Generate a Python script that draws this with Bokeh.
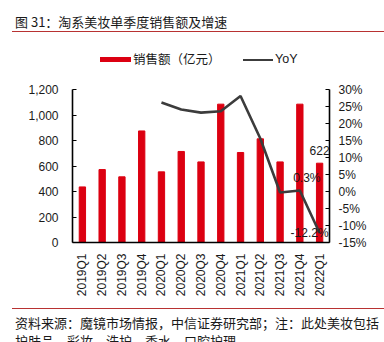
import math
from bokeh.plotting import figure
from bokeh.layouts import column
from bokeh.models import (FactorRange, Range1d, LinearAxis, FixedTicker, Div, Label,
                          NumeralTickFormatter, PrintfTickFormatter)
from bokeh.embed import file_html
from bokeh.resources import INLINE

# ---------------- data ----------------
categories = ["2019Q1", "2019Q2", "2019Q3", "2019Q4", "2020Q1", "2020Q2", "2020Q3",
              "2020Q4", "2021Q1", "2021Q2", "2021Q3", "2021Q4", "2022Q1"]
sales = [436, 572, 515, 875, 554, 714, 632, 1085, 706, 813, 632, 1085, 622]
yoy_categories = ["2020Q1", "2020Q2", "2020Q3", "2020Q4", "2021Q1", "2021Q2",
                  "2021Q3", "2021Q4", "2022Q1"]
yoy_values = [26.2, 24.1, 23.2, 23.6, 28.1, 15.6, -0.3, 0.3, -12.2]
left_ticks = [0, 200, 400, 600, 800, 1000, 1200]
right_ticks = [-15, -10, -5, 0, 5, 10, 15, 20, 25, 30]

title_text = "图 31：淘系美妆单季度销售额及增速"
legend_bar = "销售额（亿元）"
legend_line = "YoY"
source_line1 = "资料来源：魔镜市场情报，中信证券研究部；注：此处美妆包括"
source_line2 = "护肤品、彩妆、洗护、香水、口腔护理"

# ---------------- style ----------------
W = 384
TOP_H, MAIN_H, BOT_H = 72, 228, 42
RED = "#DC0011"
LINE = "#3C3C3C"
SEP = "#B83232"
TXT = "#1a1a1a"
LAT = "Liberation Sans"
CJK = "Noto Sans CJK SC"


def box(left, top, width, height, color):
    return (f'<div style="position:absolute;left:{left}px;top:{top}px;width:{width}px;'
            f'height:{height}px;background:{color};"></div>')


def txt(left, top, text, size, font):
    return (f'<div style="position:absolute;left:{left}px;top:{top}px;font-family:\'{font}\';'
            f'font-size:{size}px;line-height:{size}px;white-space:nowrap;color:{TXT};">{text}</div>')


def panel(height, inner):
    return (f'<div style="position:relative;width:{W}px;height:{height}px;background:white;'
            f'overflow:hidden;margin:0;padding:0;">{inner}</div>')


def factor_center(cat):
    # centre of a factor on a FactorRange with default padding
    return categories.index(cat) + 0.5


# ---------------- header: title + legend ----------------
header_html = panel(TOP_H,
                    txt(15, 15, title_text, 13, CJK)
                    + box(12, 30.5, W - 12, 1.5, SEP)
                    + box(100, 57, 31, 5, RED)
                    + txt(133, 53.2, legend_bar, 12.5, CJK)
                    + box(243, 58.6, 30, 2, LINE)
                    + txt(275, 53.2, legend_line, 12.5, LAT))
header = Div(text=header_html, width=W, height=TOP_H, margin=0)

# ---------------- main chart ----------------
p = figure(width=W, height=MAIN_H, x_range=FactorRange(*categories), y_range=Range1d(0, 1200),
           output_backend="svg", toolbar_location=None, margin=0,
           min_border_left=72, min_border_right=55, min_border_top=17, min_border_bottom=58)
p.outline_line_color = None
p.xgrid.grid_line_color = None
p.ygrid.grid_line_color = None
p.background_fill_color = "white"
p.border_fill_color = "white"

p.extra_y_ranges = {"yoy": Range1d(-15, 30)}

p.vbar(x=categories, top=sales, width=0.32, color=RED)
p.line(x=yoy_categories, y=yoy_values, y_range_name="yoy", line_color=LINE, line_width=2.6)

xa = p.xaxis[0]
xa.major_label_orientation = math.pi / 2
xa.major_tick_line_color = None
xa.minor_tick_line_color = None
xa.axis_line_color = "black"
xa.axis_line_width = 1.6
xa.major_label_text_font = LAT
xa.major_label_text_font_size = "12px"
xa.major_label_text_color = TXT
xa.major_label_standoff = 5

ya = p.yaxis[0]
ya.ticker = FixedTicker(ticks=left_ticks)
ya.formatter = NumeralTickFormatter(format="0,0")
ya.major_tick_in = 4
ya.major_tick_out = 0
ya.minor_tick_line_color = None
ya.axis_line_color = "black"
ya.axis_line_width = 1.6
ya.major_tick_line_width = 1.2
ya.major_label_text_font = LAT
ya.major_label_text_font_size = "12px"
ya.major_label_text_color = TXT
ya.major_label_standoff = 14

ra = LinearAxis(y_range_name="yoy", ticker=FixedTicker(ticks=right_ticks),
                formatter=PrintfTickFormatter(format="%d%%"))
ra.major_tick_in = 4
ra.major_tick_out = 0
ra.minor_tick_line_color = None
ra.axis_line_color = "black"
ra.axis_line_width = 1.6
ra.major_tick_line_width = 1.2
ra.major_label_text_font = LAT
ra.major_label_text_font_size = "12px"
ra.major_label_text_color = TXT
ra.major_label_standoff = 9
p.add_layout(ra, "right")

# data labels
p.add_layout(Label(x=factor_center(categories[-1]), y=sales[-1], text=str(sales[-1]),
                   text_align="center", text_baseline="bottom", y_offset=8,
                   text_font=LAT, text_font_size="12px", text_color=TXT))
p.add_layout(Label(x=factor_center(yoy_categories[-2]), y=yoy_values[-2], y_range_name="yoy",
                   text="%.1f%%" % yoy_values[-2],
                   text_align="center", text_baseline="bottom", x_offset=7, y_offset=5,
                   text_font=LAT, text_font_size="12px", text_color=TXT))
p.add_layout(Label(x=factor_center(yoy_categories[-1]), y=yoy_values[-1], y_range_name="yoy",
                   text="%.1f%%" % yoy_values[-1],
                   text_align="right", text_baseline="middle", x_offset=9,
                   text_font=LAT, text_font_size="12px", text_color=TXT))

# ---------------- footer: source ----------------
footer_html = panel(BOT_H,
                    box(12, 7.5, W - 12, 1.5, SEP)
                    + txt(15, 15.5, source_line1, 13, CJK)
                    + txt(15, 34, source_line2, 13, CJK))
footer = Div(text=footer_html, width=W, height=BOT_H, margin=0)

layout = column(header, p, footer, spacing=0, margin=0)
open("out.html", "w").write(file_html(layout, INLINE))
